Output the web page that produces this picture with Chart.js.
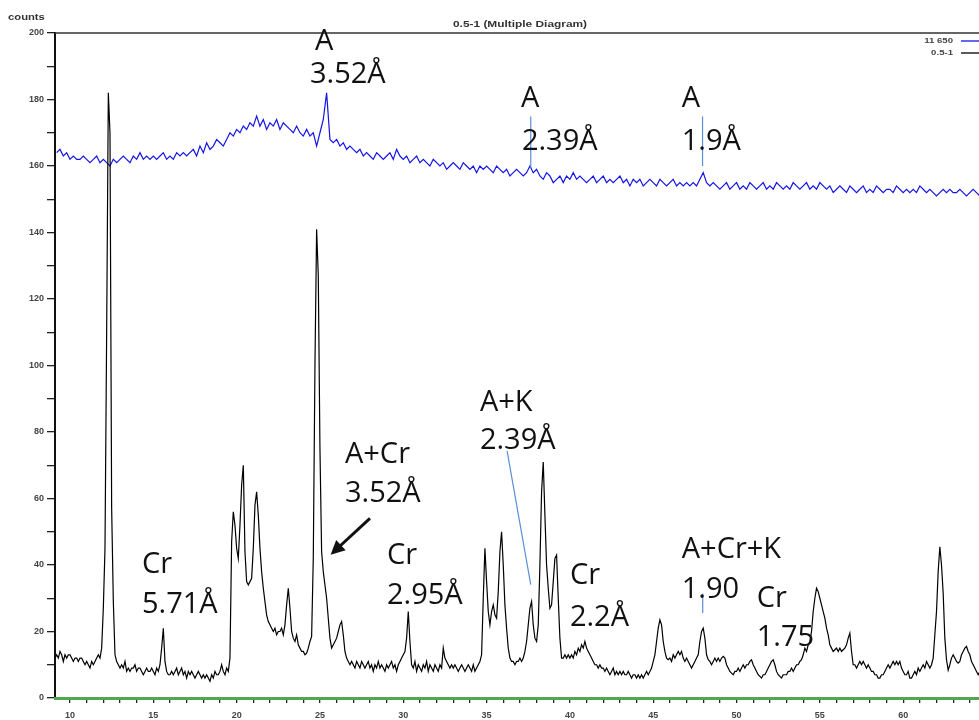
<!DOCTYPE html>
<html>
<head>
<meta charset="utf-8">
<title>0.5-1 (Multiple Diagram)</title>
<script src="https://cdn.jsdelivr.net/npm/chart.js@4.4.1/dist/chart.umd.min.js"></script>
<style>
  body { margin: 0; background: #fff; }
  canvas { display: block; }
</style>
</head>
<body>
<canvas id="xrd" width="979" height="720"></canvas>
<script>
// 2-theta sampling of the two scans (degrees)
var blackStart = 9.1, blackStep = 0.1;
var blueStart = 9.2, blueStep = 0.2;

// sample "0.5-1" (black), one row per degree
var counts05 = [
  12,13,12,14,13,11,13,12,13,                 // 9.1 - 9.9
  13,12,11,12,12,11,12,12,11,10,              // 10
  11,10,9,11,10,11,12,13,12,15,               // 11
  27,45,110,182,170,57,29,13,11,10,           // 12
  9,10,9,11,8,9,8,9,9,10,                     // 13
  8,9,9,8,7,8,9,8,8,9,                        // 14
  8,7,9,8,10,15,21,11,8,7,                    // 15
  7,8,7,8,9,7,8,9,7,8,                        // 16
  6,8,7,8,7,6,7,8,7,6,                        // 17
  7,6,7,6,5,7,6,8,7,7,                        // 18
  8,10,8,7,9,8,12,47,56,52,                   // 19
  45,42,52,64,70,44,35,34,35,36,              // 20
  45,58,62,55,45,38,33,29,25,23,              // 21
  22,21,20,21,19,20,20,21,19,22,              // 22
  28,33,27,20,18,17,19,16,15,14,              // 23
  14,13,13.5,15,17,18.5,42,100,141,127,       // 24
  75,44,38,34,30,24,18,15,16,17,              // 25
  18,20,22,23,19,14,12,11,10,11,              // 26
  10,9,11,10,9,11,10,9,10,11,                 // 27
  9,10,8,10,9,11,9,10,9,8,                    // 28
  10,9,10,11,9,10,8,10,11,12,                 // 29
  13,14,18,26,17,10,9,11,8,10,                // 30
  9,8,10,9,11,8,10,9,8,10,                    // 31
  9,8,10,9,15,12,11,10,9,10,                  // 32
  9,10,9,8,9,10,9,8,9,10,                     // 33
  9,8,10,8,9,10,11,13,30,45,                  // 34
  35,26,22,26,28,25,24,32,44,50,              // 35
  40,28,21,15,12,11,11,10,11,11,              // 36
  12,11,12,14,17,22,27,29,22,18,              // 37
  17,22,40,62,71,55,40,33,27,28,              // 38
  35,42,43,30,18,12,12,13,12,13,              // 39
  12,13,12,14,13,15,14,16,15,17,              // 40
  15,14,13,12,11,10,10,9,10,9,                // 41
  9,8,9,8,7,8,9,7,8,7,                        // 42
  8,7,8,7,7,8,7,6,7,7,                        // 43
  6,7,6,7,6,7,8,7,8,9,                        // 44
  11,13,17,21,23.5,22,17,14,12,11.5,          // 45
  12,11,13,12,13,14,13,14,12,11,              // 46
  12,11,10,9,10,11,12,13,17,20,               // 47
  21,18,13,11.5,11,10,11,12,11,12,            // 48
  11,12,12.5,12,10,9,8,7.5,7,8,               // 49
  8,9,8,9,10,9,10,10,11,11.5,                 // 50
  10,9,8,7,6.5,6,7,7,8,9,                     // 51
  10,11,11.5,10,8,7,6.5,6,7,7,                // 52
  7,8,8,9,8,9,10,10,11,11.5,                  // 53
  13,15,14,16,17,20,26,30,33,32,              // 54
  30,28,26,24,21,19,16,15,14,14.5,            // 55
  15,14,15,14,14.5,15,16,18,19.5,14,          // 56
  10,10,9,10,11,10,11,10,9,10,                // 57
  9,8,8,7,7,6,6,7,7,8,                        // 58
  9,10,9,10,11,10,11,10,11,9,                 // 59
  8,7,7,8,6,6,7,8,7,9,                        // 60
  8,9,10,9,11,10,9,10,12,19,                  // 61
  26,38,45.5,40,31.6,18,11.5,8.4,10,12,       // 62
  13,12,11,10.5,11,13,14,15,15.5,14,          // 63
  13,11,10,9,8,7,8,9,8,9,                     // 64
  8                                           // 65
];

// sample "11 650" (blue), every 0.2 degree from 9.2
var counts11650 = [
  164,165,163,164,162,163,162,162,163,162,    // 9.2 - 11.0
  161,162,163,161,162,161,160,162,161,162,    // 11.2 - 13.0
  163,162,161,163,162,164,162,163,162,163,    // 13.2 - 15.0
  162,163,164,162,163,162,164,163,164,163,    // 15.2 - 17.0
  164,165,163,166,164,167,165,166,168,167,    // 17.2 - 19.0
  166,168,170,169,171,170,172,171,173,172,    // 19.2 - 21.0
  175,172,174,171,173,172,174,171,173,172,    // 21.2 - 23.0
  171,170,172,170,169,171,169,170,166,170,    // 23.2 - 25.0
  174,182,168,167,168,166,167,165,166,165,    // 25.2 - 27.0
  164,165,163,164,163,162,164,163,162,163,    // 27.2 - 29.0
  164,162,165,163,162,163,161,162,163,161,    // 29.2 - 31.0
  162,161,160,162,161,160,161,159,160,161,    // 31.2 - 33.0
  160,159,161,160,159,160,158,160,159,160,    // 33.2 - 35.0
  159,158,160,159,158,159,157,158,159,158,    // 35.2 - 37.0
  157,158,160,158,159,157,156,158,157,155,    // 37.2 - 39.0
  156,157,155,157,156,158,156,157,156,155,    // 39.2 - 41.0
  156,157,155,156,157,155,156,155,156,157,    // 41.2 - 43.0
  155,156,154,156,155,156,154,155,156,155,    // 43.2 - 45.0
  154,156,155,154,155,156,154,155,154,155,    // 45.2 - 47.0
  154,155,154,156,158,155,154,155,154,153,    // 47.2 - 49.0
  154,155,153,154,155,153,154,153,155,154,    // 49.2 - 51.0
  153,154,155,153,154,153,155,154,153,154,    // 51.2 - 53.0
  153,155,154,153,154,155,153,154,153,155,    // 53.2 - 55.0
  154,153,154,152,153,154,153,152,154,153,    // 55.2 - 57.0
  152,153,154,152,153,152,154,153,152,153,    // 57.2 - 59.0
  153,152,154,153,152,153,152,153,152,154,    // 59.2 - 61.0
  153,152,153,152,151,152,153,152,153,152,    // 61.2 - 63.0
  152,153,152,151,152,153,152,151,152,153     // 63.2 - 65.0
];

var xTickLabels = [10, 15, 20, 25, 30, 35, 40, 45, 50, 55, 60];
var yTickLabels = [0, 20, 40, 60, 80, 100, 120, 140, 160, 180, 200];

// peak labels, placed in data units (left edge, baseline)
var peakLabels = [
  { text: 'A', x: 24.7, y: 194.8 },
  { text: '3.52Å', x: 24.4, y: 185.1 },
  { text: 'A', x: 37.06, y: 177.6 },
  { text: '2.39Å', x: 37.12, y: 164.9 },
  { text: 'A', x: 46.71, y: 177.6 },
  { text: '1.9Å', x: 46.71, y: 164.9 },
  { text: 'Cr', x: 14.32, y: 37.7 },
  { text: '5.71Å', x: 14.32, y: 25.6 },
  { text: 'A+Cr', x: 26.5, y: 70.8 },
  { text: '3.52Å', x: 26.5, y: 58.8 },
  { text: 'Cr', x: 29.02, y: 40.4 },
  { text: '2.95Å', x: 29.02, y: 28.3 },
  { text: 'A+K', x: 34.6, y: 86.2 },
  { text: '2.39Å', x: 34.6, y: 74.8 },
  { text: 'Cr', x: 40.0, y: 34.4 },
  { text: '2.2Å', x: 40.0, y: 21.7 },
  { text: 'A+Cr+K', x: 46.71, y: 42.2 },
  { text: '1.90', x: 46.71, y: 30.1 },
  { text: 'Cr', x: 51.21, y: 27.4 },
  { text: '1.75', x: 51.21, y: 15.7 }
];
// thin blue marker lines [x1, y1, x2, y2]
var markerLines = [
  [37.65, 174.9, 37.65, 159.4],
  [47.96, 174.9, 47.96, 160.0],
  [36.23, 74.3, 37.65, 34.1],
  [47.97, 31.4, 47.97, 25.6]
];
var arrowLine = [28.0, 54.0, 25.64, 43.1];

function toPoints(start, step, values) {
  var pts = [];
  for (var i = 0; i < values.length; i++) {
    pts.push({ x: +(start + i * step).toFixed(2), y: values[i] });
  }
  return pts;
}

// small header texts in the original look horizontally stretched
function wideText(ctx, text, x, y, align, stretch) {
  ctx.save();
  ctx.translate(x, y);
  ctx.scale(stretch, 1);
  ctx.textAlign = align;
  ctx.fillText(text, 0, 0);
  ctx.restore();
}

var decorations = {
  id: 'decorations',
  afterDatasetsDraw: function (chart) {
    var ctx = chart.ctx, xs = chart.scales.x, ys = chart.scales.y, a = chart.chartArea;
    ctx.save();
    // top frame line
    ctx.strokeStyle = '#333';
    ctx.lineWidth = 1.5;
    ctx.beginPath();
    ctx.moveTo(a.left, a.top);
    ctx.lineTo(a.right, a.top);
    ctx.stroke();

    // blue marker lines
    ctx.strokeStyle = '#5b8fd6';
    ctx.lineWidth = 1.2;
    markerLines.forEach(function (l) {
      ctx.beginPath();
      ctx.moveTo(xs.getPixelForValue(l[0]), ys.getPixelForValue(l[1]));
      ctx.lineTo(xs.getPixelForValue(l[2]), ys.getPixelForValue(l[3]));
      ctx.stroke();
    });

    // arrow to the 3.52 shoulder
    var x1 = xs.getPixelForValue(arrowLine[0]), y1 = ys.getPixelForValue(arrowLine[1]);
    var x2 = xs.getPixelForValue(arrowLine[2]), y2 = ys.getPixelForValue(arrowLine[3]);
    var ang = Math.atan2(y2 - y1, x2 - x1);
    ctx.strokeStyle = '#111';
    ctx.fillStyle = '#111';
    ctx.lineWidth = 3;
    ctx.beginPath();
    ctx.moveTo(x1, y1);
    ctx.lineTo(x2 - 8 * Math.cos(ang), y2 - 8 * Math.sin(ang));
    ctx.stroke();
    ctx.beginPath();
    ctx.moveTo(x2, y2);
    ctx.lineTo(x2 - 14 * Math.cos(ang) + 7 * Math.sin(ang), y2 - 14 * Math.sin(ang) - 7 * Math.cos(ang));
    ctx.lineTo(x2 - 14 * Math.cos(ang) - 7 * Math.sin(ang), y2 - 14 * Math.sin(ang) + 7 * Math.cos(ang));
    ctx.closePath();
    ctx.fill();

    // peak labels
    ctx.fillStyle = '#111';
    ctx.font = '29px "Open Sans"';
    ctx.textAlign = 'left';
    ctx.textBaseline = 'alphabetic';
    peakLabels.forEach(function (p) {
      ctx.fillText(p.text, xs.getPixelForValue(p.x), ys.getPixelForValue(p.y));
    });

    // header texts
    ctx.font = 'bold 9px "Liberation Sans"';
    ctx.fillStyle = '#333';
    ctx.textBaseline = 'middle';
    wideText(ctx, '0.5-1 (Multiple Diagram)', 520, 25, 'center', 1.32);
    wideText(ctx, 'counts', 8, 18, 'left', 1.25);

    // legend
    ctx.font = 'bold 8px "Liberation Sans"';
    var legend = [['11 650', '#1515e6', 41], ['0.5-1', '#000', 53]];
    legend.forEach(function (l) {
      ctx.fillStyle = '#444';
      wideText(ctx, l[0], 953, l[2], 'right', 1.2);
      ctx.strokeStyle = l[1];
      ctx.lineWidth = 1.3;
      ctx.beginPath();
      ctx.moveTo(961, l[2]);
      ctx.lineTo(979, l[2]);
      ctx.stroke();
    });
    ctx.restore();
  }
};

var ctx = document.getElementById('xrd').getContext('2d');
var chart = new Chart(ctx, {
  type: 'line',
  data: {
    datasets: [{
      label: '0.5-1',
      data: toPoints(blackStart, blackStep, counts05),
      borderColor: '#000',
      borderWidth: 1.2,
      pointRadius: 0,
      tension: 0,
      order: 0
    }, {
      label: '11 650',
      data: toPoints(blueStart, blueStep, counts11650),
      borderColor: '#1515e6',
      borderWidth: 1.2,
      pointRadius: 0,
      tension: 0,
      order: 1
    }]
  },
  options: {
    responsive: false,
    animation: false,
    devicePixelRatio: 1,
    layout: { padding: { top: 33, left: 0, right: 0, bottom: 0 } },
    plugins: {
      legend: { display: false },
      tooltip: { enabled: false },
      title: { display: false }
    },
    scales: {
      x: {
        type: 'linear',
        min: 9.1,
        max: 64.55,
        afterFit: function (scale) { scale.height = 22; },
        grid: { drawOnChartArea: false, drawTicks: true, tickLength: 5, color: '#222', lineWidth: 1.3 },
        border: { display: true, color: '#4fa84f', width: 3, z: 1 },
        ticks: {
          stepSize: 1,
          includeBounds: false,
          autoSkip: false,
          maxRotation: 0,
          padding: 7,
          color: '#444',
          font: { size: 9, weight: 'bold', family: 'Liberation Sans' },
          callback: function (v) { return xTickLabels.indexOf(v) >= 0 ? String(v) : ''; }
        }
      },
      y: {
        min: 0,
        max: 200,
        afterFit: function (scale) { scale.width = 55; },
        grid: { drawOnChartArea: false, drawTicks: true, tickLength: 8, color: '#222', lineWidth: 1.3 },
        border: { display: true, color: '#111', width: 2 },
        ticks: {
          stepSize: 10,
          autoSkip: false,
          padding: 3,
          color: '#444',
          font: { size: 9, weight: 'bold', family: 'Liberation Sans' },
          callback: function (v) { return yTickLabels.indexOf(v) >= 0 ? String(v) : ''; }
        }
      }
    }
  },
  plugins: [decorations]
});
</script>
</body>
</html>
